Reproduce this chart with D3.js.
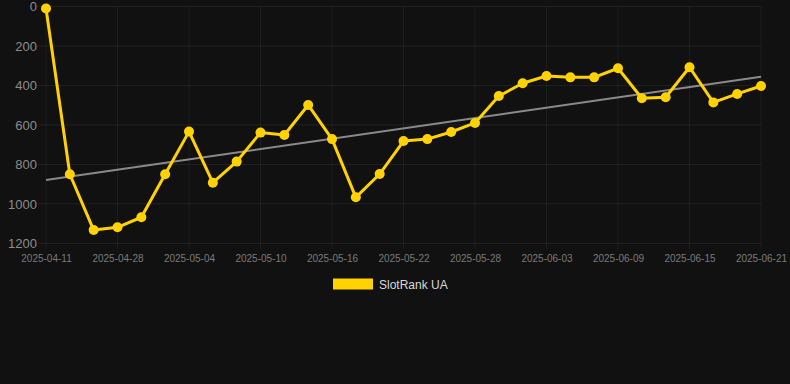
<!DOCTYPE html>
<html><head><meta charset="utf-8">
<script src="https://cdn.jsdelivr.net/npm/d3@7"></script>
<style>html,body{margin:0;padding:0;background:#111111;}svg{display:block;}</style>
</head><body>
<svg id="chart" width="790" height="384"></svg>
<script>
const dates = ["2025-04-11","2025-04-24","2025-04-26","2025-04-28","2025-04-30","2025-05-02","2025-05-04","2025-05-06","2025-05-08","2025-05-10","2025-05-12","2025-05-14","2025-05-16","2025-05-18","2025-05-20","2025-05-22","2025-05-24","2025-05-26","2025-05-28","2025-05-30","2025-06-01","2025-06-03","2025-06-05","2025-06-07","2025-06-09","2025-06-11","2025-06-13","2025-06-15","2025-06-17","2025-06-19","2025-06-21"];
const ranks = [10,850,1133,1119,1068,850,634,893,786,639,651,499,672,967,849,682,672,636,590,454,389,352,359,359,313,465,460,308,486,443,403];
const trendEnds = [879,356];
const yTicks = [0,200,400,600,800,1000,1200];
const seriesName = "SlotRank UA";

(function(){
const svg = d3.select("#chart");
const pLeft = 46, pRight = 761, pTop = 6.5, pBottom = 243.3;
const x = d3.scalePoint().domain(dates).range([pLeft, pRight]);
const y = d3.scaleLinear().domain([0,1200]).range([pTop, pBottom]);
const labeled = dates.filter((d,i)=> i % 3 === 0);
const font = "Helvetica, Arial, 'Liberation Sans', sans-serif";

// grid
const g = svg.append("g");
g.selectAll("line.h").data(yTicks).join("line").attr("class","h")
  .attr("x1", 38).attr("x2", pRight).attr("y1", d=>y(d)).attr("y2", d=>y(d))
  .attr("stroke", "rgba(255,255,255,0.07)").attr("stroke-width",1);
g.selectAll("line.v").data(labeled).join("line").attr("class","v")
  .attr("x1", d=>x(d)).attr("x2", d=>x(d)).attr("y1", pTop).attr("y2", pBottom+6)
  .attr("stroke", "rgba(255,255,255,0.05)").attr("stroke-width",1);

// y axis labels
const yAxis = d3.axisLeft(y).tickValues(yTicks).tickFormat(d3.format("d")).tickSize(0).tickPadding(0);
const ya = svg.append("g").attr("transform", "translate(37,0)").call(yAxis);
ya.select(".domain").remove();
ya.selectAll("text").attr("fill","#8c8c8c").attr("font-family",font).attr("font-size","13px");

// x axis labels
const xAxis = d3.axisBottom(x).tickValues(labeled).tickSize(0).tickPadding(0);
const xa = svg.append("g").attr("transform", `translate(0,${pBottom+12})`).call(xAxis);
xa.select(".domain").remove();
xa.selectAll("text").attr("fill","#7a7a7a").attr("font-family",font).attr("font-size","10px").attr("dy","0.71em");

// trend line
svg.append("line")
  .attr("x1", x(dates[0])).attr("y1", y(trendEnds[0]))
  .attr("x2", x(dates[dates.length-1])).attr("y2", y(trendEnds[1]))
  .attr("stroke", "#8a8a8a").attr("stroke-width", 2);

// series line
const line = d3.line().x((d,i)=>x(dates[i])).y(d=>y(d));
svg.append("path").datum(ranks).attr("d", line)
  .attr("fill","none").attr("stroke","#FFD200").attr("stroke-width",3).attr("stroke-linejoin","round");
svg.selectAll("circle.pt").data(ranks).join("circle").attr("class","pt")
  .attr("cx",(d,i)=>x(dates[i])).attr("cy",d=>y(d)).attr("r",5)
  .attr("fill","#FFD200");

// legend
svg.append("rect").attr("x",333).attr("y",278.5).attr("width",40).attr("height",11).attr("fill","#FFD200");
svg.append("text").attr("x",379).attr("y",288.5).text(seriesName)
  .attr("fill","#d8d8d8").attr("font-family",font).attr("font-size","12px");
})();
</script>
</body></html>
